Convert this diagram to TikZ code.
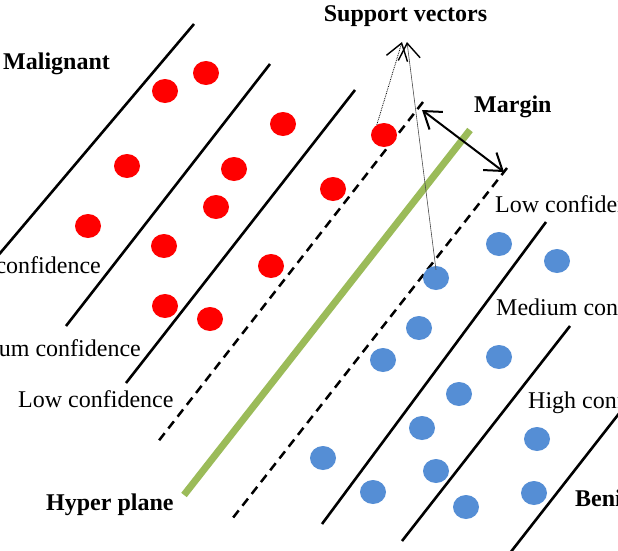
\documentclass[tikz,border=0pt]{standalone}
\usepackage{fontspec}
\setmainfont{Liberation Serif}
\usetikzlibrary{arrows.meta,shapes.geometric}
\definecolor{redpt}{RGB}{255,0,0}
\definecolor{bluept}{RGB}{85,142,213}
\definecolor{hypgreen}{RGB}{155,187,89}
\tikzset{
  rdot/.style={ellipse,fill=redpt,draw=none,minimum width=26pt,minimum height=24pt,inner sep=0pt},
  bdot/.style={ellipse,fill=bluept,draw=none,minimum width=26pt,minimum height=24pt,inner sep=0pt},
  bound/.style={line width=2.6pt,black},
  svline/.style={line width=2.5pt,black,dash pattern=on 9pt off 6pt},
  hyper/.style={line width=7pt,hypgreen},
  lbl/.style={font=\fontsize{24}{28}\selectfont,inner sep=0pt},
  blbl/.style={font=\fontsize{24}{28}\selectfont\bfseries,inner sep=0pt},
  marrow/.style={line width=2pt,{Straight Barb[length=16pt,width=22pt]}-{Straight Barb[length=16pt,width=22pt]}},
  svarrowA/.style={line width=0.8pt,densely dotted,-{Straight Barb[length=16pt,width=22pt,line width=1.4pt]}},
  svarrowB/.style={line width=0.6pt,black!70,-{Straight Barb[length=16pt,width=22pt,line width=1.4pt,color=black]}}
}
\begin{document}
\begin{tikzpicture}[x=1pt,y=-1pt]
\useasboundingbox (0,0) rectangle (618,551);
\clip (0,0) rectangle (618,551);
\fill[white] (0,0) rectangle (618,551);
% boundary lines (malignant side)
\draw[bound] (194,24) -- (-4,258);
\draw[bound] (270,64) -- (66,326);
\draw[bound] (355,90) -- (126,383);
% support lines
\draw[svline] (423,102) -- (157,443);
\draw[svline] (507,168) -- (232,519);
% hyper plane
\draw[hyper] (470,130) -- (184,495);
% boundary lines (benign side)
\draw[bound] (546,222) -- (322,524);
\draw[bound] (570,326) -- (402,541);
\draw[bound] (628,402) -- (510,553);
% red dots
\node[rdot] (r1) at (206,73) {};
\node[rdot] (r2) at (165,91) {};
\node[rdot] (r3) at (283,124) {};
\node[rdot] (r4) at (127,166) {};
\node[rdot] (r5) at (234,169) {};
\node[rdot] (rs) at (384,135) {};
\node[rdot] (r7) at (333,189) {};
\node[rdot] (r8) at (216,207) {};
\node[rdot] (r9) at (88,226) {};
\node[rdot] (r10) at (164,246) {};
\node[rdot] (r11) at (271,266) {};
\node[rdot] (r12) at (165,306) {};
\node[rdot] (r13) at (210,319) {};
% blue dots
\node[bdot] (b1) at (499,244) {};
\node[bdot] (b2) at (557,261) {};
\node[bdot] (bs) at (436,278) {};
\node[bdot] (b4) at (419,328) {};
\node[bdot] (b5) at (383,360) {};
\node[bdot] (b6) at (499,357) {};
\node[bdot] (b7) at (459,394) {};
\node[bdot] (b8) at (422,428) {};
\node[bdot] (b9) at (537,439) {};
\node[bdot] (b10) at (323,458) {};
\node[bdot] (b11) at (436,471) {};
\node[bdot] (b12) at (373,492) {};
\node[bdot] (b13) at (534,493) {};
\node[bdot] (b14) at (466,507) {};
% labels
\node[blbl,anchor=base] (sv) at (405.5,22) {Support vectors};
\node[blbl,anchor=base west] (mg) at (474,112) {Margin};
\node[blbl,anchor=base west] (mal) at (3,70) {Malignant};
\node[blbl,anchor=base west] (hp) at (46,510) {Hyper plane};
\node[blbl,anchor=base west] (ben) at (575,506) {Benign};
\node[lbl,anchor=base east] (lh) at (101,273) {High confidence};
\node[lbl,anchor=base east] (lm) at (141,356) {Medium confidence};
\node[lbl,anchor=base west] (ll) at (18,407) {Low confidence};
\node[lbl,anchor=base west] (rl) at (495,212) {Low confidence};
\node[lbl,anchor=base west] (rm) at (496,315) {Medium confidence};
\node[lbl,anchor=base west] (rh) at (528,408) {High confidence};
% margin arrow
\coordinate (m1) at (422,110);
\coordinate (m2) at (504,172);
\draw[marrow] (m1) -- (m2);
% support vector pointers
\coordinate (tipA) at (402,42);
\coordinate (tipB) at (407,42);
\draw[svarrowA] (rs.125) -- (tipA);
\draw[svarrowB] ([yshift=-4pt]bs.north) -- (tipB);
\end{tikzpicture}
\end{document}
